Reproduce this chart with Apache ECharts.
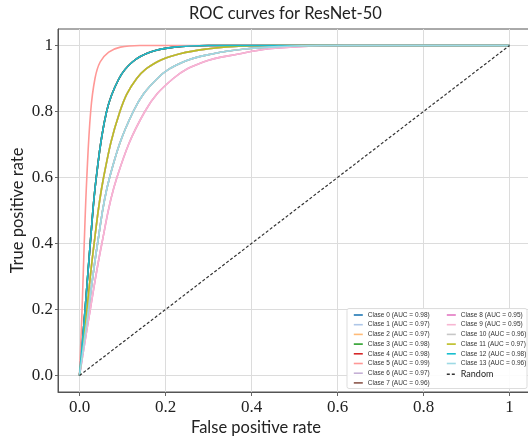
<!DOCTYPE html>
<html>
<head>
<meta charset="utf-8">
<script src="https://cdn.jsdelivr.net/npm/echarts@6/dist/echarts.min.js"></script>
<style>html,body{margin:0;padding:0;background:#fff}#c{width:528px;height:438px}</style>
</head>
<body>
<div id="c"></div>
<script>
// ---- data ----
const classNames = ['Clase 0','Clase 1','Clase 2','Clase 3','Clase 4','Clase 5','Clase 6','Clase 7','Clase 8','Clase 9','Clase 10','Clase 11','Clase 12','Clase 13'];
const classAuc = [0.98,0.97,0.97,0.98,0.98,0.99,0.97,0.96,0.95,0.95,0.96,0.97,0.98,0.96];
const classColors = ['#1f77b4','#aec7e8','#ffbb78','#2ca02c','#d62728','#ff9896','#c5b0d5','#8c564b','#e377c2','#f7b6d2','#c7c7c7','#bcbd22','#17becf','#9edae5'];

// ROC points (FPR, TPR) per AUC level
const fpr099 = [0, 0.006, 0.011, 0.017, 0.026, 0.036, 0.048, 0.068, 0.095, 0.14, 1];
const tpr099 = [0, 0.2,   0.4,   0.6,   0.8,   0.9,   0.95,  0.98,  0.995, 1,    1];
const fpr098 = [0, 0.013, 0.025, 0.039, 0.063, 0.092, 0.123, 0.165, 0.22, 0.30, 1];
const tpr098 = [0, 0.2,   0.4,   0.6,   0.8,   0.9,   0.95,  0.98,  0.995, 1,   1];
const fpr097 = [0, 0.017, 0.034, 0.056, 0.094, 0.133, 0.18, 0.234, 0.30, 0.37, 0.45, 1];
const tpr097 = [0, 0.2,   0.4,   0.6,   0.8,   0.9,   0.95, 0.975, 0.99, 0.998, 1,  1];
const fpr096 = [0, 0.021, 0.042, 0.07, 0.125, 0.181, 0.241, 0.311, 0.39, 0.47, 0.56, 1];
const tpr096 = [0, 0.2,   0.4,   0.6,  0.8,   0.9,   0.95,  0.975, 0.99, 0.997, 1,  1];
const fpr095 = [0, 0.025, 0.052, 0.087, 0.152, 0.218, 0.288, 0.373, 0.44, 0.52, 0.62, 1];
const tpr095 = [0, 0.2,   0.4,   0.6,   0.8,   0.9,   0.95,  0.975, 0.99, 0.997, 1,  1];

const randomFpr = [0, 1];
const randomTpr = [0, 1];

const tickValues = [0, 0.2, 0.4, 0.6, 0.8, 1];

// ---- build ----
const curves = {
  '0.99': [fpr099, tpr099],
  '0.98': [fpr098, tpr098],
  '0.97': [fpr097, tpr097],
  '0.96': [fpr096, tpr096],
  '0.95': [fpr095, tpr095]
};
function pairs(xs, ys) { return xs.map((x, i) => [x, ys[i]]); }
function lbl(v) { return v === 1 ? '1' : v.toFixed(1); }

const series = classNames.map((n, i) => {
  const c = curves[classAuc[i].toFixed(2)];
  return {
    name: n + ' (AUC = ' + classAuc[i].toFixed(2) + ')',
    type: 'line',
    data: pairs(c[0], c[1]),
    symbol: 'none',
    smooth: 0.4,
    color: classColors[i],
    lineStyle: { width: 1.6, color: classColors[i] },
    z: 2
  };
});
series.push({
  name: 'Random',
  type: 'line',
  data: pairs(randomFpr, randomTpr),
  symbol: 'none',
  color: '#333',
  lineStyle: { width: 1.2, color: '#333', type: [3, 2] },
  z: 3
});

const legendText = { fontSize: 6.5, fontFamily: 'Liberation Sans', color: '#333', lineHeight: 7 };
const legA = series.slice(0, 8).map(s => ({ name: s.name }));
const legB = series.slice(8, 14).map(s => ({ name: s.name }));
legB.push({ name: 'Random', textStyle: { fontSize: 9, fontFamily: 'Lato', color: '#222', lineHeight: 7 } });

const axisLabelStyle = { fontFamily: 'Liberation Serif', fontSize: 17, color: '#222' };

const legendCommon = {
  orient: 'vertical', itemWidth: 9, itemHeight: 7, itemGap: 2.7, padding: 0,
  textStyle: legendText, z: 5,
  itemStyle: { opacity: 0, borderWidth: 0 },
  lineStyle: { width: 1.6 }
};

const option = {
  animation: false,
  backgroundColor: '#fff',
  title: {
    text: 'ROC curves for ResNet-50',
    left: 189, top: 5, padding: 0,
    textStyle: { fontFamily: 'Lato', fontSize: 16.5, fontWeight: 'normal', color: '#222' }
  },
  grid: { left: 58, top: 29, width: 473, height: 363, outerBoundsMode: 'none', containLabel: false,
          show: true, borderColor: '#555', borderWidth: 1, backgroundColor: 'transparent' },
  xAxis: {
    type: 'value', min: -0.05, max: 1.05,
    name: 'False positive rate', nameLocation: 'middle', nameGap: 27, nameMoveOverlap: false,
    nameTextStyle: { fontFamily: 'Lato', fontSize: 16.5, color: '#222', padding: [0, 77, 0, 0] },
    axisLine: { show: true, onZero: false, lineStyle: { color: '#555', width: 1 } },
    axisTick: { show: true, length: 4, customValues: tickValues, lineStyle: { color: '#666' } },
    axisLabel: { customValues: tickValues, formatter: lbl, margin: 7, ...axisLabelStyle },
    splitLine: { show: true, lineStyle: { color: '#dcdcdc', width: 1 } }
  },
  yAxis: {
    type: 'value', min: -0.05, max: 1.05,
    name: 'True positive rate', nameLocation: 'middle', nameGap: 32, nameMoveOverlap: false,
    nameTextStyle: { fontFamily: 'Lato', fontSize: 16.5, color: '#222' },
    axisLine: { show: true, onZero: false, lineStyle: { color: '#555', width: 1 } },
    axisTick: { show: true, length: 3, customValues: tickValues, lineStyle: { color: '#666' } },
    axisLabel: { customValues: tickValues, formatter: lbl, margin: 5, ...axisLabelStyle },
    splitLine: { show: true, lineStyle: { color: '#dcdcdc', width: 1 } }
  },
  graphic: [{
    type: 'rect', z: 3, silent: true,
    shape: { x: 347, y: 308.5, width: 180, height: 80, r: 2 },
    style: { fill: 'rgba(255,255,255,0.9)', stroke: '#dddddd', lineWidth: 1 }
  }],
  legend: [
    Object.assign({ left: 353, top: 311.5, data: legA }, legendCommon),
    Object.assign({ left: 446, top: 311.5, data: legB }, legendCommon)
  ],
  series: series
};

const chart = echarts.init(document.getElementById('c'), null, { renderer: 'canvas' });
chart.setOption(option);
</script>
</body>
</html>
